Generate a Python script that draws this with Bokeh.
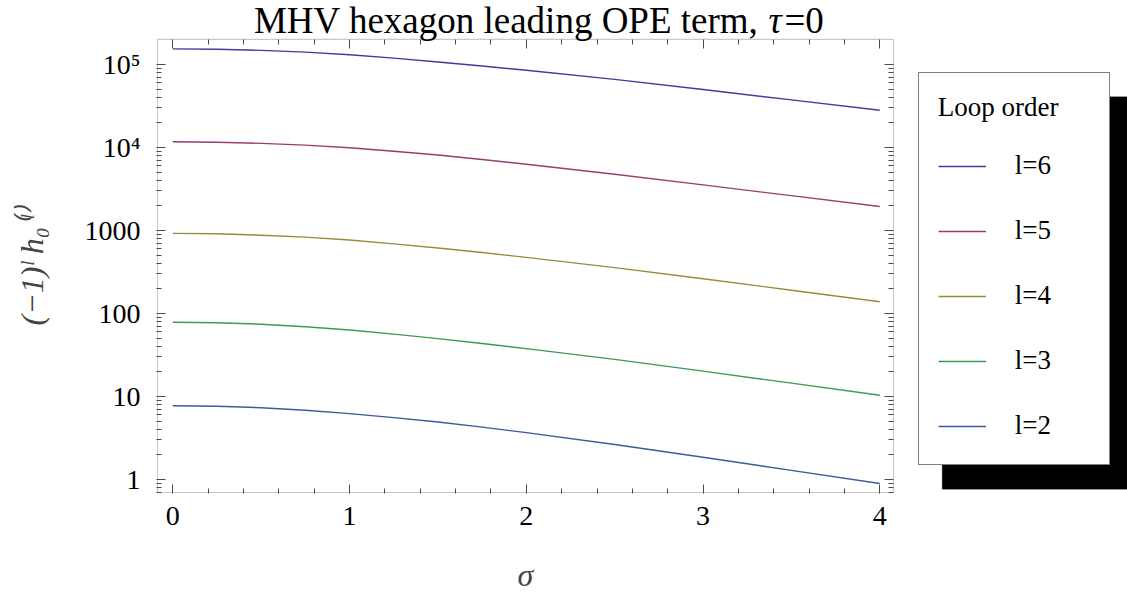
from bokeh.plotting import figure
from bokeh.models import (Range1d, FixedTicker, LinearAxis, LogAxis, Legend,
                          LegendItem, Label, Title, BoxAnnotation)
from bokeh.embed import file_html
from bokeh.resources import INLINE

# ---------------- data ----------------
sigma = [0, 0.25, 0.5, 0.75, 1, 1.25, 1.5, 1.75, 2, 2.5, 3, 3.5, 4]
h_l6 = [1.542e5, 1.526e5, 1.479e5, 1.406e5, 1.309e5, 1.191e5, 1.072e5,
        9.57e4, 8.51e4, 6.6e4, 4.98e4, 3.74e4, 2.8e4]
h_l5 = [1.17e4, 1.156e4, 1.119e4, 1.064e4, 9910, 8990, 8090, 7145, 6270,
        4740, 3530, 2620, 1940]
h_l4 = [920, 909, 875, 828, 766, 687, 612, 540, 473, 356, 261, 190, 138]
h_l3 = [78, 76.9, 74.0, 69.0, 63.0, 56.1, 49.5, 43.3, 37.6, 27.9, 20.1,
        14.4, 10.3]
h_l2 = [7.69, 7.59, 7.29, 6.79, 6.19, 5.53, 4.90, 4.25, 3.65, 2.62, 1.84,
        1.28, 0.89]

series_values = [h_l6, h_l5, h_l4, h_l3, h_l2]
series_labels = ["l=6", "l=5", "l=4", "l=3", "l=2"]
series_colors = ["#3f3d99", "#993d71", "#998b3d", "#3d9956", "#3d5a99"]

x_ticks = [0, 1, 2, 3, 4]
y_ticks = [1, 10, 100, 1000, 10000, 100000]
y_tick_labels = ["1", "10", "100", "1000", "10\u2074", "10\u2075"]

title_main = "MHV hexagon leading OPE term,"
title_var = "\u03c4"
title_eq = "=0"
x_label = "\u03c3"
y_label = "(\u22121)\u02e1 h\u2080\u207d\u02e1\u207e"
legend_title = "Loop order"

FONT = "Liberation Serif"
AX = "#4a4a4a"

# ---------------- layout geometry (canvas px) ----------------
CW, CH = 1127, 592
FR_L, FR_R, FR_T, FR_B = 156, 1127, 0, 495      # plotting frame
BOX_L, BOX_R, BOX_T, BOX_B = 157, 893, 39, 494  # visible plot box
X0_PX, X4_PX = 172.3, 879.3                     # sigma = 0 and 4
Y1_PX, Y5_PX = 480.7, 64.2                      # 1 and 1e5
XS = (X4_PX - X0_PX) / 4.0
YS = (Y1_PX - Y5_PX) / 5.0


def xd(px):
    return (px - X0_PX) / XS


def yd(py):
    return 10 ** ((Y1_PX - py) / YS)


def sx(px):   # frame-relative screen x
    return px - FR_L


def sy(py):   # frame-relative screen y (from frame bottom)
    return FR_B - py


p = figure(width=CW, height=CH, y_axis_type="log",
           x_range=Range1d(xd(FR_L), xd(FR_R)),
           y_range=Range1d(yd(FR_B), yd(FR_T)),
           output_backend="svg", toolbar_location=None,
           min_border_left=FR_L, min_border_right=CW - FR_R,
           min_border_top=FR_T, min_border_bottom=CH - FR_B)
p.xgrid.visible = False
p.ygrid.visible = False
p.outline_line_color = None
p.background_fill_color = "white"
p.border_fill_color = "white"

x_minor = [i / 5 for i in range(0, 21) if i % 5]
y_minor = [m * 10 ** k for k in range(-1, 6) for m in range(2, 10)
           if yd(BOX_B) < m * 10 ** k < yd(BOX_T + 1)]


def style_axis(ax, show_labels, standoff=12):
    ax.axis_line_color = None
    ax.major_tick_line_color = AX
    ax.minor_tick_line_color = AX
    ax.major_tick_in = 9
    ax.major_tick_out = 0
    ax.minor_tick_in = 5
    ax.minor_tick_out = 0
    ax.major_label_standoff = standoff
    if show_labels:
        ax.major_label_text_font = FONT
        ax.major_label_text_font_size = "28px"
        ax.major_label_text_color = "black"
    else:
        ax.major_label_text_color = None
        ax.major_label_text_font_size = "0px"


def spacer(ax, standoff):
    # blank, transparent axis label: only reserves room so the axis
    # title (added as a Title below / left) sits where the reference has it
    ax.axis_label = "\u00a0"
    ax.axis_label_text_font_size = "10px"
    ax.axis_label_text_alpha = 0
    ax.axis_label_standoff = standoff


xt = FixedTicker(ticks=x_ticks, minor_ticks=x_minor)
yt = FixedTicker(ticks=y_ticks, minor_ticks=y_minor)

p.xaxis.ticker = xt
p.yaxis.ticker = yt
style_axis(p.xaxis[0], True, standoff=13)
style_axis(p.yaxis[0], True, standoff=16)
p.yaxis[0].major_label_overrides = dict(zip(y_ticks, y_tick_labels))
spacer(p.xaxis[0], 13)
spacer(p.yaxis[0], 18)

top_ax = LinearAxis(ticker=xt, fixed_location=yd(BOX_T))
style_axis(top_ax, False, standoff=0)
p.add_layout(top_ax, "above")
right_ax = LogAxis(ticker=yt, fixed_location=xd(BOX_R))
style_axis(right_ax, False, standoff=0)
p.add_layout(right_ax, "right")

# visible frame box
p.add_layout(BoxAnnotation(left=xd(BOX_L), right=xd(BOX_R),
                           bottom=yd(BOX_B), top=yd(BOX_T),
                           fill_alpha=0, line_color=AX, line_width=1.2))

# ---------------- curves ----------------
renderers = []
for vals, col in zip(series_values, series_colors):
    renderers.append(p.line(sigma, vals, line_color=col, line_width=1.4))

# ---------------- legend with drop shadow ----------------
LEG_L, LEG_R, LEG_T, LEG_B = 917.7, 1109, 72.7, 466.7
SH = 24
p.add_layout(BoxAnnotation(left=xd(LEG_L + SH), right=xd(LEG_R + SH),
                           top=yd(LEG_T + SH), bottom=yd(LEG_B + SH),
                           fill_color="black", fill_alpha=1.0,
                           line_color="black"))

leg = Legend(items=[LegendItem(label=l, renderers=[r])
                    for l, r in zip(series_labels, renderers)],
             location=(sx(LEG_L), sy(LEG_B)), orientation="vertical",
             title=legend_title)
leg.padding = 19
leg.spacing = 27
leg.label_height = 38
leg.glyph_height = 38
leg.glyph_width = 48
leg.label_standoff = 29
leg.label_width = 75
leg.margin = 0
leg.label_text_font = FONT
leg.label_text_font_size = "27px"
leg.label_text_color = "black"
leg.title_standoff = 24
leg.title_text_font = FONT
leg.title_text_font_size = "27px"
leg.title_text_font_style = "normal"
leg.title_text_color = "black"
leg.border_line_color = "black"
leg.border_line_width = 1
leg.background_fill_color = "white"
leg.background_fill_alpha = 1.0
p.add_layout(leg, "center")


# ---------------- title ----------------
def lab(text, x, y, size, style="normal", align="left", baseline="alphabetic"):
    return Label(text=text, x=x, y=y, x_units="screen", y_units="screen",
                 text_font=FONT, text_font_size=size, text_font_style=style,
                 text_align=align, text_baseline=baseline, text_color="black")


TB = sy(22)
p.add_layout(lab(title_main, sx(758), TB, "37px", align="right"))
p.add_layout(lab(title_var, sx(768), TB, "37px", style="italic"))
p.add_layout(lab(title_eq, sx(784), TB, "37px"))

# ---------------- axis titles ----------------
p.add_layout(Title(text=x_label, align="left", offset=517 - FR_L,
                   vertical_align="bottom",
                   text_font=FONT, text_font_size="32px",
                   text_font_style="italic", standoff=0), "below")
p.add_layout(Title(text=y_label, align="left", offset=FR_B - 327,
                   vertical_align="bottom",
                   text_font=FONT, text_font_size="32px",
                   text_font_style="italic", standoff=0), "left")

open("out.html", "w").write(file_html(p, INLINE))
